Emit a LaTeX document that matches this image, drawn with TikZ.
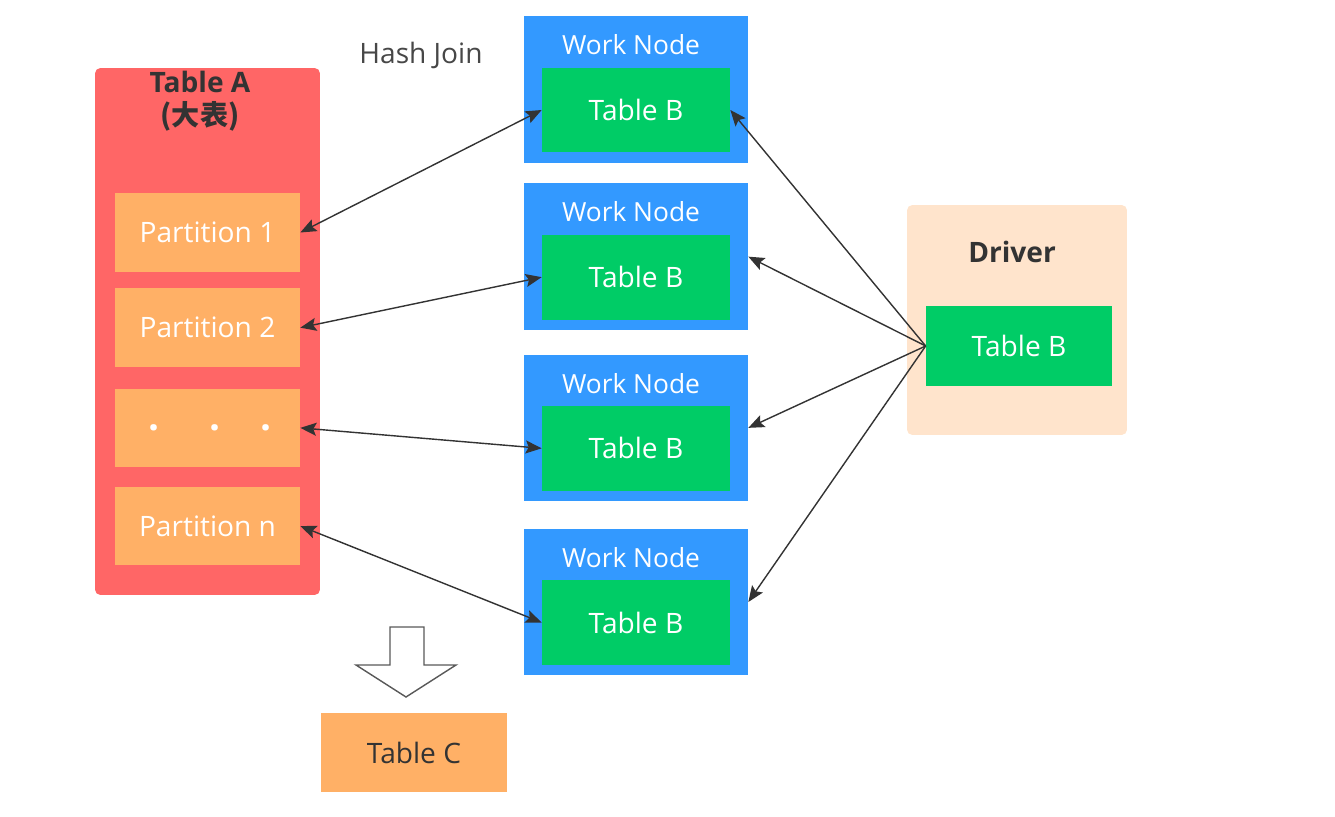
\documentclass[tikz,border=0pt]{standalone}
\usepackage{fontspec}
\setmainfont{Open Sans}
\newfontfamily\cjk{Noto Sans CJK SC}
\usetikzlibrary{positioning, arrows.meta}

\definecolor{tablered}{HTML}{FF6666}
\definecolor{partorange}{HTML}{FFB066}
\definecolor{workblue}{HTML}{3399FF}
\definecolor{tablegreen}{HTML}{00CC66}
\definecolor{driverbg}{HTML}{FFE4CC}
\definecolor{darktext}{HTML}{333333}
\definecolor{arrowgrey}{HTML}{333333}

\begin{document}
\begin{tikzpicture}[
  x=0.02cm, y=-0.02cm,
  node distance=3.2mm,
  >={Stealth[length=3.2mm, width=2.6mm, inset=0.6mm]},
  box/.style={fill=#1, inner sep=0pt, align=center, font=\fontsize{16}{19}\selectfont},
  part/.style={box=partorange, minimum width=3.7cm, minimum height=1.57cm, text=white},
  worker/.style={box=workblue, minimum width=4.48cm, minimum height=2.93cm},
  tblb/.style={box=tablegreen, minimum width=3.76cm, minimum height=1.7cm, text=white},
  wlabel/.style={font=\fontsize{15}{18}\selectfont, text=white},
  title/.style={font=\bfseries\fontsize{16}{19}\selectfont, text=darktext, align=center},
  every edge/.style={draw=arrowgrey, line width=0.8pt}
]
\useasboundingbox (0,0) rectangle (1335,817);

\node[box=tablered, minimum width=4.5cm, minimum height=10.54cm, rounded corners=3pt] (tableA) at (207.5,331.5) {};
\node[title] (titleA) at (200,101) {Table A\\{\cjk (大表)}};

\node[part] (p1) at (207.5,232.5) {Partition 1};
\node[part, below=3.2mm of p1] (p2) {Partition 2};
\node[part, below=4.2mm of p2, font=\bfseries\fontsize{22}{22}\selectfont] (pd) {\hspace{1mm}.\hspace{10mm}.\hspace{8mm}.};
\node[part, below=3.8mm of pd] (pn) {Partition n};

\node[text=darktext!90, font=\fontsize{16}{19}\selectfont] (hash) at (421,55) {Hash Join};

\node[worker] (wn1) at (636,89.5) {};
\node[worker, below=4mm of wn1] (wn2) {};
\node[worker, below=4.8mm of wn2] (wn3) {};
\node[worker, below=5.4mm of wn3] (wn4) {};

\foreach \i in {1,...,4} {
  \node[tblb] (tb\i) at ([yshift=-4.1mm]wn\i.center) {Table B};
  \node[wlabel] (wl\i) at ([xshift=-1mm, yshift=-5.8mm]wn\i.north) {Work Node};
}

\node[box=driverbg, minimum width=4.4cm, minimum height=4.6cm, rounded corners=3pt] (driver) at (1017,320) {};
\node[title] (dlabel) at ([xshift=-1mm, yshift=-9.4mm]driver.north) {Driver};
\node[tblb, minimum width=3.72cm, minimum height=1.6cm] (dtb) at (1019,346) {Table B};

\draw[draw=gray!70!black, line width=0.8pt, fill=white]
  (390,627) -- (424,627) -- (424,665) -- (456,665) -- (406,697) -- (356,665) -- (390,665) -- cycle;
\node[box=partorange, minimum width=3.72cm, minimum height=1.58cm, text=darktext] (tc) at (414,752.5) {Table C};

\draw (p1.east) edge[<->] (tb1.west);
\draw (p2.east) edge[<->] (tb2.west);
\draw (pd.east) edge[<->] (tb3.west);
\draw (pn.east) edge[<->] (tb4.west);

\draw (dtb.west) edge[->] (tb1.east);
\draw (dtb.west) edge[->] (wn2.east);
\draw (dtb.west) edge[->] (wn3.east);
\draw (dtb.west) edge[->] (wn4.east);
\end{tikzpicture}
\end{document}
